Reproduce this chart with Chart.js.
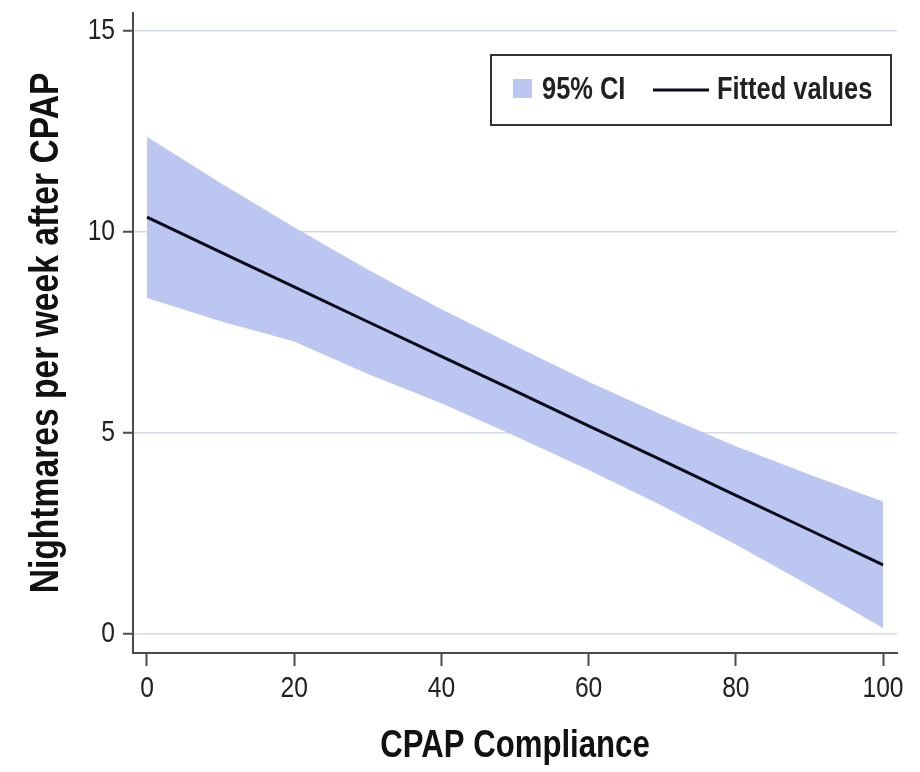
<!DOCTYPE html>
<html>
<head>
<meta charset="utf-8">
<title>Nightmares vs CPAP compliance</title>
<script src="https://cdn.jsdelivr.net/npm/chart.js@4/dist/chart.umd.min.js"></script>
<style>
  html, body { margin: 0; padding: 0; background: #fff; }
  #wrap { width: 920px; height: 772px; }
</style>
</head>
<body>
<div id="wrap"><canvas id="fitChart" width="920" height="772"></canvas></div>
<script>
/* global Chart */

// values
const compliance = [0, 10, 20, 30, 40, 50, 60, 70, 80, 90, 100];
const fitted =     [10.37, 9.50, 8.64, 7.77, 6.91, 6.05, 5.18, 4.32, 3.45, 2.59, 1.72];
const ciUpper =    [12.37, 11.22, 10.12, 9.07, 8.08, 7.17, 6.28, 5.45, 4.67, 3.97, 3.30];
const ciLower =    [8.36, 7.78, 7.28, 6.47, 5.74, 4.93, 4.08, 3.19, 2.23, 1.21, 0.15];

const xTicks = [0, 20, 40, 60, 80, 100];
const yTicks = [0, 5, 10, 15];

const FONT = "'Liberation Sans', Arial, sans-serif";
const SQUEEZE = 0.82; // the original uses a narrow face; fake it
const INK = "#222";
const AXIS = "#4a4a52";
const BAND = "rgb(188,199,241)";

function pts(ys) {
  return compliance.map((x, i) => ({ x, y: ys[i] }));
}

const canvas = document.getElementById("fitChart");
const ctx2d = canvas.getContext("2d");
const rawFillText = ctx2d.fillText.bind(ctx2d);
ctx2d.fillText = function (text, x, y) {
  this.save();
  this.translate(x, y);
  this.scale(SQUEEZE, 1);
  rawFillText(text, 0, 0);
  this.restore();
};

// legend drawn as a boxed key, like the original
const boxedLegend = {
  id: "boxedLegend",
  afterDraw(chart) {
    const { ctx, chartArea } = chart;
    const right = chartArea.right - 6;
    const left = right - 400;
    const top = chartArea.top + 42;
    const h = 70;
    const mid = top + h / 2;
    ctx.save();
    ctx.fillStyle = "#fff";
    ctx.fillRect(left, top, right - left, h);
    ctx.strokeStyle = "#333";
    ctx.lineWidth = 2;
    ctx.strokeRect(left, top, right - left, h);

    const band = chart.data.datasets[0];
    const line = chart.data.datasets[2];
    ctx.font = "bold 31px " + FONT;
    ctx.textBaseline = "middle";
    ctx.textAlign = "left";

    let x = left + 22;
    ctx.fillStyle = band.backgroundColor;
    ctx.fillRect(x, mid - 11, 19, 19);
    ctx.fillStyle = INK;
    ctx.fillText(band.label, x + 29, mid);

    x = left + 162;
    ctx.strokeStyle = line.borderColor;
    ctx.lineWidth = 3;
    ctx.beginPath();
    ctx.moveTo(x, mid);
    ctx.lineTo(x + 56, mid);
    ctx.stroke();
    ctx.fillText(line.label, x + 64, mid);
    ctx.restore();
  },
};

new Chart(canvas, {
  type: "line",
  data: {
    datasets: [
      {
        label: "95% CI",
        data: pts(ciUpper),
        borderWidth: 0,
        pointRadius: 0,
        backgroundColor: BAND,
        fill: "+1",
        order: 2,
      },
      {
        label: "lower",
        data: pts(ciLower),
        borderWidth: 0,
        pointRadius: 0,
        backgroundColor: BAND,
        fill: false,
        order: 1,
      },
      {
        label: "Fitted values",
        data: pts(fitted),
        borderColor: "#0b0b18",
        borderWidth: 3,
        pointRadius: 0,
        fill: false,
        tension: 0,
        order: 0,
      },
    ],
  },
  options: {
    responsive: false,
    animation: false,
    layout: { padding: { top: 13, right: 23, left: 0, bottom: 0 } },
    plugins: {
      legend: { display: false },
      tooltip: { enabled: false },
    },
    scales: {
      x: {
        type: "linear",
        min: -1.9,
        max: 101.9,
        afterBuildTicks: (s) => { s.ticks = xTicks.map((v) => ({ value: v })); },
        afterFit: (s) => { s.height = 119; s.paddingLeft = 0; s.paddingRight = 0; },
        border: { display: true, color: AXIS, width: 2 },
        grid: { drawOnChartArea: false, drawTicks: true, tickLength: 13, tickColor: AXIS, tickWidth: 2 },
        ticks: { color: INK, padding: 5, maxRotation: 0, font: { family: FONT, size: 30 } },
        title: {
          display: true,
          text: "CPAP Compliance",
          color: "#111",
          padding: { top: 0, bottom: 3 },
          font: { family: FONT, size: 38, weight: "bold" },
        },
      },
      y: {
        type: "linear",
        min: -0.47,
        max: 15.45,
        afterBuildTicks: (s) => { s.ticks = yTicks.map((v) => ({ value: v })); },
        afterFit: (s) => { s.width = 133; s.paddingTop = 0; s.paddingBottom = 0; },
        border: { display: true, color: AXIS, width: 2 },
        grid: { color: "#d3d9e7", lineWidth: 1.5, tickLength: 10, tickColor: AXIS, tickWidth: 2 },
        ticks: { color: INK, padding: 8, font: { family: FONT, size: 30 } },
        title: {
          display: true,
          text: "Nightmares per week after CPAP",
          color: "#111",
          padding: { top: 22, bottom: 0 },
          font: { family: FONT, size: 41, weight: "bold" },
        },
      },
    },
  },
  plugins: [boxedLegend],
});
</script>
</body>
</html>
